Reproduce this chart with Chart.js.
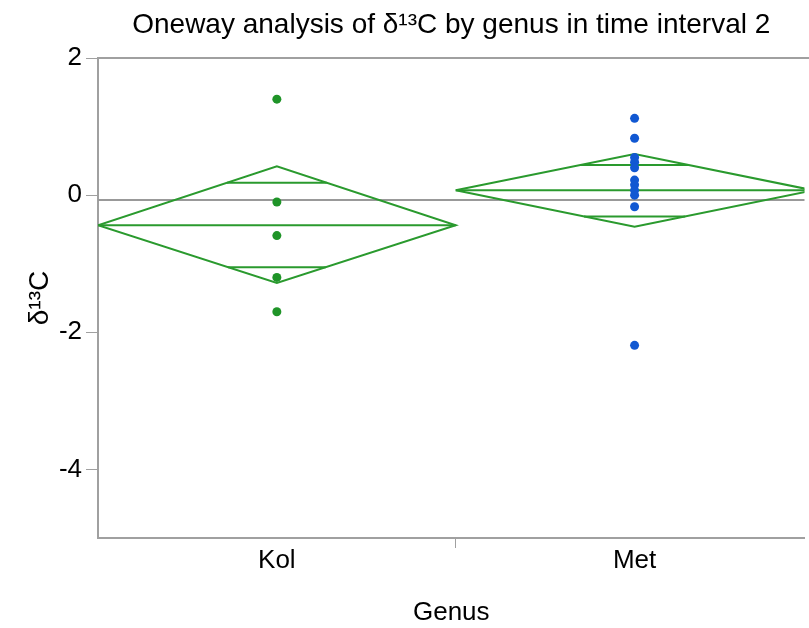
<!DOCTYPE html>
<html>
<head>
<meta charset="utf-8">
<script src="https://cdn.jsdelivr.net/npm/chart.js@4.4.0/dist/chart.umd.min.js"></script>
<style>
    html, body { margin: 0; padding: 0; background: #fff; }
    #wrap { width: 809px; height: 628px; }
</style>
</head>
<body>
<div id="wrap"><canvas id="onewayChart"></canvas></div>
<script>
// Datos
const genus = ['Kol', 'Met'];
const kolValues = [1.40, -0.10, -0.59, -1.20, -1.70];
const metValues = [1.12, 0.83, 0.55, 0.48, 0.40, 0.22, 0.15, 0.07, 0.00, -0.17, -2.19];
const groupMeans = [-0.44, 0.07];
const ciUpper = [0.42, 0.60];
const ciLower = [-1.28, -0.46];
const overlapUpper = [0.18, 0.44];
const overlapLower = [-1.05, -0.31];
const grandMean = -0.07;
const yTicks = [2, 0, -2, -4];

const FONT = "'Liberation Sans Narrow', 'Arial Narrow', 'Liberation Sans', sans-serif";
const GREEN = '#2a9a2e';
const GRAY = '#a0a0a0';

document.addEventListener("DOMContentLoaded", function () {
    const ctx = document.getElementById('onewayChart');

    const datasets = [
        { data: kolValues.map(v => ({ x: 0.5, y: v })), backgroundColor: '#1f9428', borderWidth: 0, pointRadius: 4.5 },
        { data: metValues.map(v => ({ x: 1.5, y: v })), backgroundColor: '#1158d2', borderWidth: 0, pointRadius: 4.5 }
    ];

    // diamantes de medias
    genus.forEach((g, i) => {
        const m = groupMeans[i];
        const line = pts => ({ data: pts, showLine: true, borderColor: GREEN, borderWidth: 2, pointRadius: 0, fill: false });
        datasets.push(line([
            { x: i, y: m }, { x: i + 0.5, y: ciUpper[i] }, { x: i + 1, y: m },
            { x: i + 0.5, y: ciLower[i] }, { x: i, y: m }
        ]));
        datasets.push(line([{ x: i, y: m }, { x: i + 1, y: m }]));
        const hu = 0.5 * (1 - (overlapUpper[i] - m) / (ciUpper[i] - m));
        const hl = 0.5 * (1 - (m - overlapLower[i]) / (m - ciLower[i]));
        datasets.push(line([{ x: i + 0.5 - hu, y: overlapUpper[i] }, { x: i + 0.5 + hu, y: overlapUpper[i] }]));
        datasets.push(line([{ x: i + 0.5 - hl, y: overlapLower[i] }, { x: i + 0.5 + hl, y: overlapLower[i] }]));
    });

    // media general
    datasets.push({
        data: [{ x: 0, y: grandMean }, { x: 2, y: grandMean }],
        showLine: true, borderColor: '#999999', borderWidth: 2, pointRadius: 0
    });

    const topBorder = {
        id: 'topBorder',
        afterDraw(chart) {
            const a = chart.chartArea, c = chart.ctx;
            c.save();
            c.strokeStyle = GRAY;
            c.lineWidth = 2;
            c.beginPath();
            c.moveTo(a.left, a.top);
            c.lineTo(chart.width, a.top);
            c.stroke();
            c.restore();
        }
    };

    new Chart(ctx.getContext('2d'), {
        type: 'scatter',
        data: { datasets: datasets },
        plugins: [topBorder],
        options: {
            responsive: true,
            maintainAspectRatio: false,
            animation: false,
            layout: { padding: 0 },
            plugins: {
                legend: { display: false },
                tooltip: { enabled: false },
                title: {
                    display: true,
                    fullSize: false,
                    text: 'Oneway analysis of δ¹³C by genus in time interval 2',
                    color: '#000',
                    font: { family: FONT, size: 28, weight: 'normal' },
                    padding: { top: 8, bottom: 16.4 }
                }
            },
            scales: {
                x: {
                    type: 'linear',
                    min: 0,
                    max: 1.975,
                    afterBuildTicks: s => { s.ticks = [0.5, 1, 1.5].map(v => ({ value: v })); },
                    afterFit: s => { s.height = 90; },
                    ticks: {
                        autoSkip: false,
                        maxRotation: 0,
                        padding: -3,
                        color: '#000',
                        font: { family: FONT, size: 26 },
                        callback: v => {
                            const i = v - 0.5;
                            return Number.isInteger(i) ? genus[i] : '';
                        }
                    },
                    grid: {
                        drawOnChartArea: false,
                        tickLength: 10,
                        tickWidth: 1,
                        tickColor: c => (c.tick && c.tick.value === 1) ? GRAY : 'rgba(0,0,0,0)'
                    },
                    border: { color: GRAY, width: 2 },
                    title: {
                        display: true,
                        text: 'Genus',
                        color: '#000',
                        font: { family: FONT, size: 26 },
                        padding: { top: 0, bottom: 0 }
                    }
                },
                y: {
                    min: -5,
                    max: 2,
                    afterBuildTicks: s => { s.ticks = yTicks.map(v => ({ value: v })); },
                    afterFit: s => { s.width = 98; },
                    ticks: {
                        padding: 4,
                        color: '#000',
                        font: { family: FONT, size: 26 }
                    },
                    grid: {
                        drawOnChartArea: false,
                        tickLength: 12,
                        tickWidth: 1,
                        tickColor: GRAY
                    },
                    border: { color: GRAY, width: 2 },
                    title: {
                        display: true,
                        text: 'δ¹³C',
                        color: '#000',
                        font: { family: FONT, size: 28 },
                        padding: { top: 23, bottom: 0 }
                    }
                }
            }
        }
    });
});
</script>
</body>
</html>
